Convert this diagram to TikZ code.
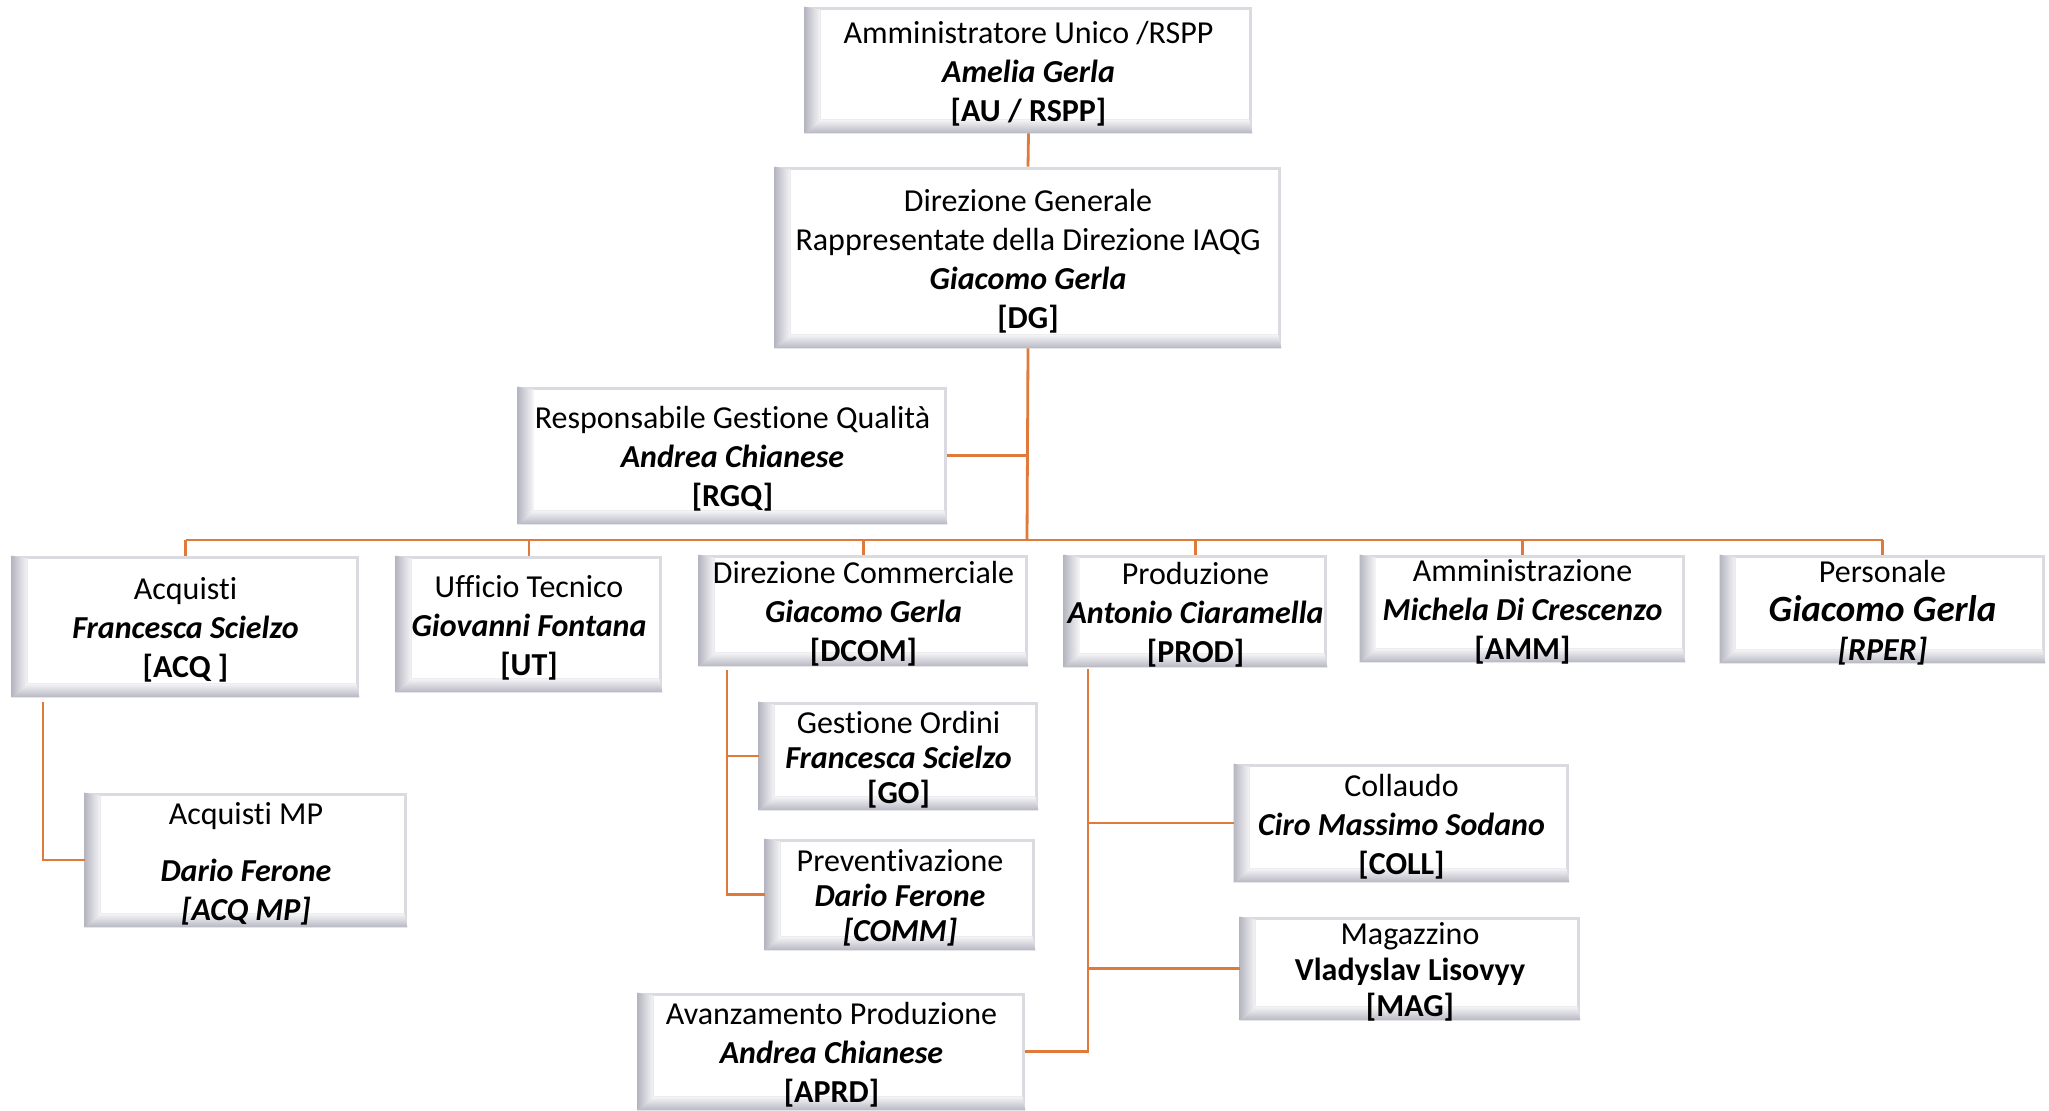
\documentclass[tikz,border=0pt]{standalone}
\usepackage{fontspec}
\setmainfont[Ligatures=NoCommon]{Carlito}
\usetikzlibrary{backgrounds}
\definecolor{orgline}{HTML}{E07A3A}
\definecolor{bevd}{RGB}{182,182,194}
\definecolor{bevf}{RGB}{218,218,225}
\definecolor{bevw}{RGB}{246,246,248}
\tikzset{
  x=0.5pt, y=-0.5pt,
  bx/.style={draw=none, inner sep=0pt},
  txt/.style={inner sep=0pt, align=center, font=\fontsize{16}{19.5}\selectfont},
  tight/.style={font=\fontsize{16}{17.5}\selectfont},
  mid/.style={font=\fontsize{16}{18}\selectfont},
  conn/.style={draw=orgline, line width=1.4pt},
}
\newcommand\nm[1]{\textbf{\textit{#1}}}
\newcommand\cd[1]{\textbf{#1}}
\newcommand\obox[7]{%
  \node[bx,minimum width={(#5-#3)*0.5pt},minimum height={(#6-#4)*0.5pt}] (#2) at ({(#3+#5)/2},{(#4+#6)/2}) {};
  \node[txt,#1] at ([yshift=-1.75pt]#2.center) {#7};
  \begin{scope}[on background layer]
    \fill[bevf] (#2.north west) rectangle (#2.south east);
    \shade[left color=bevd, right color=bevw] (#2.north west) -- ([shift={(16,3)}]#2.north west) -- ([shift={(16,-14)}]#2.south west) -- (#2.south west) -- cycle;
    \shade[top color=bevw, bottom color=bevd] (#2.south west) -- ([shift={(16,-14)}]#2.south west) -- ([shift={(-3,-14)}]#2.south east) -- (#2.south east) -- cycle;
    \fill[white] ([shift={(16,3)}]#2.north west) rectangle ([shift={(-3,-14)}]#2.south east);
  \end{scope}}
\begin{document}
\begin{tikzpicture}
\begin{scope}[on background layer]
\path[use as bounding box, fill=white] (0,0) rectangle (2049,1110);
\end{scope}

\obox{}{AU}{805}{7}{1252}{133}{Amministratore Unico /RSPP\\ \nm{Amelia Gerla}\\ \cd{[AU / RSPP]}}
\obox{}{DG}{775}{167}{1281}{348}{Direzione Generale\\ Rappresentate della Direzione IAQG\\ \nm{Giacomo Gerla}\\ \cd{[DG]}}
\obox{}{RGQ}{518}{387}{947}{524}{Responsabile Gestione Qualità\\ \nm{Andrea Chianese}\\ \cd{[RGQ]}}
\obox{}{ACQ}{12}{556}{359}{697}{Acquisti\\ \nm{Francesca Scielzo}\\ \cd{[ACQ ]}}
\obox{}{UT}{396}{556}{662}{692}{Ufficio Tecnico\\ \nm{Giovanni Fontana}\\ \cd{[UT]}}
\obox{}{DCOM}{699}{555}{1028}{666}{Direzione Commerciale\\ \nm{Giacomo Gerla}\\ \cd{[DCOM]}}
\obox{}{PROD}{1064}{555}{1327}{667}{Produzione\\ \nm{Antonio Ciaramella}\\ \cd{[PROD]}}
\obox{}{AMM}{1360}{555}{1685}{662}{Amministrazione\\ \nm{Michela Di Crescenzo}\\ \cd{[AMM]}}
\obox{}{PER}{1720}{555}{2045}{663}{Personale\\ {\fontsize{18.5}{19.5}\selectfont\nm{Giacomo Gerla}}\\ \nm{[RPER]}}
\obox{}{ACQMP}{85}{793}{407}{927}{Acquisti MP\\[9pt] \nm{Dario Ferone}\\ \nm{[ACQ MP]}}
\obox{tight}{GO}{759}{702}{1038}{810}{Gestione Ordini\\ \nm{Francesca Scielzo}\\ \cd{[GO]}}
\obox{tight}{COMM}{765}{839}{1035}{950}{Preventivazione\\ \nm{Dario Ferone}\\ \nm{[COMM]}}
\obox{}{APRD}{638}{993}{1025}{1110}{Avanzamento Produzione\\ \nm{Andrea Chianese}\\ \cd{[APRD]}}
\obox{}{COLL}{1234}{764}{1569}{882}{Collaudo\\ \nm{Ciro Massimo Sodano}\\ \cd{[COLL]}}
\obox{mid}{MAG}{1240}{917}{1580}{1020}{Magazzino\\ \cd{Vladyslav Lisovyy}\\ \cd{[MAG]}}

% connectors
\coordinate (bus) at (1027,540);
\draw[conn] (AU.south) -- (DG.north);
\draw[conn] (DG.south) -- (bus);
\draw[conn] (RGQ.east) -- (RGQ.east -| DG.south);
\draw[conn] (ACQ.north |- bus) -- (PER.north |- bus);
\foreach \n in {ACQ,UT,DCOM,PROD,AMM,PER}
  \draw[conn] (\n.north |- bus) -- (\n.north);

\coordinate (acqv) at (43,702);
\draw[conn] (acqv) |- (ACQMP.west);

\coordinate (dcomv) at (727,670);
\draw[conn] (dcomv) |- (COMM.west);
\draw[conn] (dcomv |- GO.west) -- (GO.west);

\coordinate (prodv) at (1088,669);
\draw[conn] (prodv) |- (APRD.east);
\draw[conn] (prodv |- COLL.west) -- (COLL.west);
\draw[conn] (prodv |- MAG.west) -- (MAG.west);
\end{tikzpicture}
\end{document}
